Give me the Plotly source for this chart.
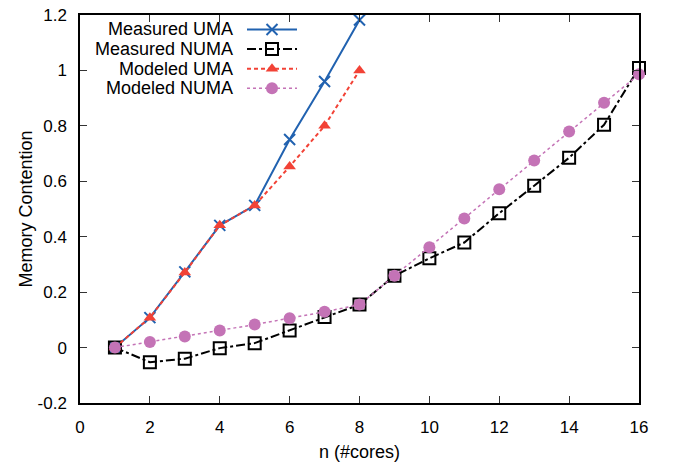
import plotly.graph_objects as go

n_uma = [1, 2, 3, 4, 5, 6, 7, 8]
measured_uma = [0.0, 0.108, 0.273, 0.441, 0.513, 0.751, 0.96, 1.182]
modeled_uma = [0.0, 0.108, 0.271, 0.441, 0.513, 0.653, 0.80, 1.0]

n_numa = [1, 2, 3, 4, 5, 6, 7, 8, 9, 10, 11, 12, 13, 14, 15, 16]
measured_numa = [0.0, -0.053, -0.04, -0.002, 0.016, 0.062, 0.11, 0.155,
                 0.259, 0.322, 0.379, 0.485, 0.584, 0.685, 0.804, 1.009]
modeled_numa = [0.0, 0.02, 0.04, 0.062, 0.083, 0.106, 0.129, 0.155,
                0.259, 0.362, 0.466, 0.571, 0.675, 0.78, 0.883, 0.986]

series_names = ["Measured UMA", "Measured NUMA", "Modeled UMA", "Modeled NUMA"]

x_ticks = [0, 2, 4, 6, 8, 10, 12, 14, 16]
y_ticks = [-0.2, 0, 0.2, 0.4, 0.6, 0.8, 1, 1.2]
y_tick_labels = ["-0.2", "0", "0.2", "0.4", "0.6", "0.8", "1", "1.2"]

BLUE = "#2162b0"
BLACK = "#000000"
RED = "#f24236"
PINK = "#c473b6"
FONT = "Liberation Sans, Arial, sans-serif"

styles = [
    dict(color=BLUE, dash="solid", width=2,
         marker=dict(symbol="x-thin-open", size=11, color=BLUE, line=dict(color=BLUE, width=2))),
    dict(color=BLACK, dash="dashdot", width=2,
         marker=dict(symbol="square-open", size=12, color=BLACK, line=dict(color=BLACK, width=2))),
    dict(color=RED, dash="4px,3px", width=2,
         marker=dict(symbol="triangle-up", size=11, color=RED, line=dict(width=0))),
    dict(color=PINK, dash="dot", width=1.5,
         marker=dict(symbol="circle", size=12, color=PINK, line=dict(width=0))),
]
xs = [n_uma, n_numa, n_uma, n_numa]
ys = [measured_uma, measured_numa, modeled_uma, modeled_numa]

fig = go.Figure()
for name, x, y, st in zip(series_names, xs, ys, styles):
    fig.add_trace(go.Scatter(
        x=x, y=y, name=name, mode="lines+markers",
        line=dict(color=st["color"], dash=st["dash"], width=st["width"]),
        marker=st["marker"], showlegend=False, cliponaxis=False))

# manual legend (text left of sample, as in the original)
L, R, T, B = 80, 42, 15, 59
W, H = 681, 462
pw, ph = W - L - R, H - T - B
row_px = [29.5, 49.1, 68.7, 88.3]
text_right = (235 - L) / pw
s0, s1 = (247 - L) / pw, (297 - L) / pw
for name, st, py in zip(series_names, styles, row_px):
    yy = (H - B - py) / ph
    fig.add_annotation(x=text_right, y=yy, xref="paper", yref="paper", text=name,
                       showarrow=False, xanchor="right", yanchor="middle",
                       font=dict(family=FONT, size=18, color="black"))
    fig.add_trace(go.Scatter(
        x=[s0, s1], y=[yy, yy], xaxis="x2", yaxis="y2", mode="lines",
        line=dict(color=st["color"], dash=st["dash"], width=st["width"]),
        showlegend=False, hoverinfo="skip"))
    fig.add_trace(go.Scatter(
        x=[(s0 + s1) / 2], y=[yy], xaxis="x2", yaxis="y2", mode="markers",
        marker=st["marker"], showlegend=False, hoverinfo="skip"))

axis_common = dict(showline=True, linecolor="black", linewidth=1.5, mirror="ticks",
                   ticks="inside", ticklen=7, tickwidth=1.2, tickcolor="#333",
                   showgrid=False, zeroline=False, automargin=False,
                   tickfont=dict(family=FONT, size=17, color="black"))

fig.update_layout(
    width=W, height=H,
    margin=dict(l=L, r=R, t=T, b=B),
    plot_bgcolor="white", paper_bgcolor="white",
    font=dict(family=FONT, size=17, color="black"),
    showlegend=False,
    xaxis=dict(range=[0, 16], tickvals=x_ticks, ticklabelstandoff=8,
               title=dict(text="n (#cores)", standoff=9, font=dict(family=FONT, size=18)),
               **axis_common),
    yaxis=dict(range=[-0.2, 1.2], tickvals=y_ticks, ticktext=y_tick_labels, ticklabelstandoff=8,
               title=dict(text="Memory Contention", standoff=0, font=dict(family=FONT, size=18)),
               **axis_common),
    xaxis2=dict(range=[0, 1], domain=[0, 1], overlaying="x", visible=False, fixedrange=True),
    yaxis2=dict(range=[0, 1], domain=[0, 1], overlaying="y", visible=False, fixedrange=True),
)

fig.write_html("out.html", config={"displayModeBar": False},
               post_script="document.body.style.margin='0';document.body.style.overflow='hidden';")
